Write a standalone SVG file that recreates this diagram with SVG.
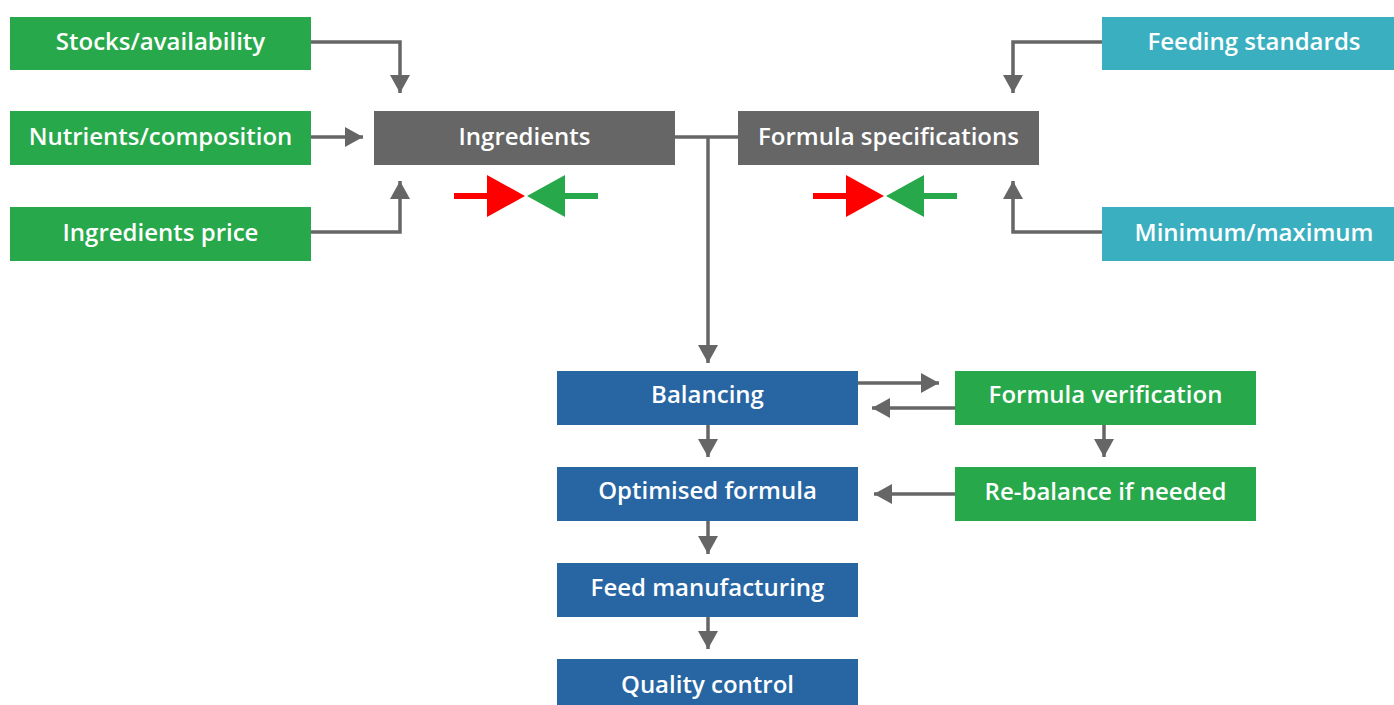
<svg xmlns="http://www.w3.org/2000/svg" width="1394" height="705" viewBox="0 0 1394 705">
<defs>
<style>
.t{font-family:"Open Sans","Liberation Sans",sans-serif;font-weight:600;font-size:24px;fill:#ffffff;text-anchor:middle}
.green{fill:#27a84a}
.gray{fill:#666666}
.teal{fill:#3aafc0}
.blue{fill:#2766a3}
.c{fill:none;stroke:#666666;stroke-width:3.5}
</style>
<marker id="ah" viewBox="0 0 18 20" refX="18" refY="10" markerWidth="18" markerHeight="20" markerUnits="userSpaceOnUse" orient="auto">
<path d="M0,0 L18,10 L0,20 Z" fill="#666666"/>
</marker>
</defs>
<rect width="1394" height="705" fill="#ffffff"/>
<g id="connectors">
<path class="c" d="M311,42 H400 V93" marker-end="url(#ah)"/>
<path class="c" d="M311,137 H363" marker-end="url(#ah)"/>
<path class="c" d="M311,232 H400 V181" marker-end="url(#ah)"/>
<path class="c" d="M1102,42 H1013 V93" marker-end="url(#ah)"/>
<path class="c" d="M1102,232 H1013 V181" marker-end="url(#ah)"/>
<path class="c" d="M675,137 H738"/>
<path class="c" d="M708,137 V363" marker-end="url(#ah)"/>
<path class="c" d="M858,383 H939" marker-end="url(#ah)"/>
<path class="c" d="M955,408 H872" marker-end="url(#ah)"/>
<path class="c" d="M708,425 V457" marker-end="url(#ah)"/>
<path class="c" d="M1104,425 V457" marker-end="url(#ah)"/>
<path class="c" d="M955,494 H874" marker-end="url(#ah)"/>
<path class="c" d="M708,521 V554" marker-end="url(#ah)"/>
<path class="c" d="M708,617 V649" marker-end="url(#ah)"/>
</g>
<g id="balance-ingredients">
<path d="M454,193 H487 V175 L525,196 L487,217 V199 H454 Z" fill="#ff0000"/>
<path d="M598,193 H565 V175 L527,196 L565,217 V199 H598 Z" fill="#27a84a"/>
</g>
<g id="balance-specifications">
<path d="M813,193 H846 V175 L884,196 L846,217 V199 H813 Z" fill="#ff0000"/>
<path d="M957,193 H924 V175 L886,196 L924,217 V199 H957 Z" fill="#27a84a"/>
</g>
<g id="stocks"><rect class="green" x="10" y="17" width="301" height="53"/><text class="t" x="160.5" y="49.5">Stocks/availability</text></g>
<g id="nutrients"><rect class="green" x="10" y="111" width="301" height="54"/><text class="t" x="160.5" y="144.5">Nutrients/composition</text></g>
<g id="price"><rect class="green" x="10" y="207" width="301" height="54"/><text class="t" x="160.5" y="240.5">Ingredients price</text></g>
<g id="ingredients"><rect class="gray" x="374" y="111" width="301" height="54"/><text class="t" x="524.5" y="144.5">Ingredients</text></g>
<g id="specifications"><rect class="gray" x="738" y="111" width="301" height="54"/><text class="t" x="888.5" y="144.5">Formula specifications</text></g>
<g id="standards"><rect class="teal" x="1102" y="17" width="292" height="53"/><text class="t" x="1254" y="49.5">Feeding standards</text></g>
<g id="minmax"><rect class="teal" x="1102" y="207" width="292" height="54"/><text class="t" x="1254" y="240.5">Minimum/maximum</text></g>
<g id="balancing"><rect class="blue" x="557" y="371" width="301" height="54"/><text class="t" x="707.5" y="402.5">Balancing</text></g>
<g id="verification"><rect class="green" x="955" y="371" width="301" height="54"/><text class="t" x="1105.5" y="402.5">Formula verification</text></g>
<g id="optimised"><rect class="blue" x="557" y="467" width="301" height="54"/><text class="t" x="707.5" y="498.5">Optimised formula</text></g>
<g id="rebalance"><rect class="green" x="955" y="467" width="301" height="54"/><text class="t" x="1105.5" y="500">Re-balance if needed</text></g>
<g id="manufacturing"><rect class="blue" x="557" y="563" width="301" height="54"/><text class="t" x="707.5" y="595.5">Feed manufacturing</text></g>
<g id="quality"><rect class="blue" x="557" y="659" width="301" height="46"/><text class="t" x="707.5" y="693">Quality control</text></g>
</svg>
